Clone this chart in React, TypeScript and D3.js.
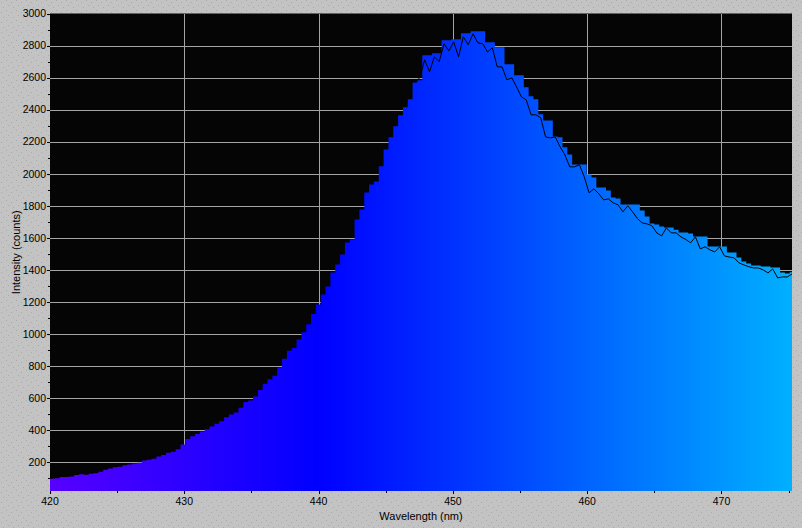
import React from 'react'
import * as d3 from 'd3'

// spectrometer bins
const WL_START = 420
const WL_STEP = 0.36

// peak-hold counts, one per bin (drawn as the coloured steps)
const holdCounts = [
  96, 100, 108, 108, 110, 120, 124, 122, 128, 130,
  140, 152, 160, 168, 172, 180, 186, 192, 196, 210,
  215, 222, 235, 245, 258, 265, 280, 310, 345, 362,
  375, 392, 405, 422, 440, 455, 480, 498, 510, 540,
  575, 585, 610, 650, 690, 718, 740, 790, 845, 895,
  912, 965, 1010, 1060, 1125, 1184, 1246, 1296, 1383, 1433,
  1496, 1571, 1590, 1715, 1777, 1883, 1933, 1952, 2046, 2152,
  2227, 2296, 2365, 2415, 2465, 2570, 2583, 2740, 2740, 2752,
  2752, 2833, 2833, 2840, 2840, 2877, 2877, 2890, 2890, 2890,
  2820, 2820, 2790, 2790, 2683, 2683, 2615, 2615, 2540, 2483,
  2465, 2371, 2333, 2333, 2233, 2227, 2165, 2120, 2058, 2058,
  2058, 1996, 1977, 1914, 1914, 1895, 1852, 1846, 1808, 1808,
  1808, 1808, 1771, 1733, 1690, 1683, 1671, 1665, 1665, 1650,
  1633, 1633, 1627, 1608, 1608, 1608, 1546, 1546, 1546, 1546,
  1508, 1508, 1477, 1452, 1440, 1427, 1427, 1421, 1421, 1415,
  1415, 1383, 1377, 1385,
]

// live spectrum (black trace), starts at bin LIVE_FROM
const LIVE_FROM = 75
const liveCounts = [
  2570, 2600, 2711, 2636, 2730, 2699, 2811, 2767, 2823, 2730,
  2855, 2805, 2873, 2817, 2811, 2760, 2786, 2667, 2667, 2586,
  2599, 2542, 2480, 2461, 2368, 2368, 2349, 2230, 2224, 2230,
  2168, 2118, 2043, 2043, 2056, 1981, 1881, 1906, 1875, 1837,
  1843, 1818, 1806, 1762, 1800, 1762, 1720, 1693, 1687, 1675,
  1631, 1612, 1662, 1631, 1631, 1606, 1590, 1569, 1606, 1531,
  1544, 1525, 1512, 1544, 1487, 1480, 1475, 1444, 1431, 1420,
  1412, 1412, 1400, 1381, 1406, 1350, 1356, 1356, 1375,
]

const xTicks = [420, 430, 440, 450, 460, 470]
const xMinor = [425, 435, 445, 455, 465, 475]
const yTicks = [200, 400, 600, 800, 1000, 1200, 1400, 1600, 1800, 2000, 2200, 2400, 2600, 2800, 3000]
const yMinor = [100, 300, 500, 700, 900, 1100, 1300, 1500, 1700, 1900, 2100, 2300, 2500, 2700, 2900]

const W = 802
const H = 528
const FONT = '"Liberation Sans", Arial, sans-serif'

export default function App() {
  const left = 50, right = 792, top = 13.5, bottom = 491

  const x = d3.scaleLinear().domain([420, 475.25]).range([left, right])
  const y = d3.scaleLinear().domain([20, 3000]).range([bottom, top])

  const holdArea = d3.area<number>()
    .x((_, i) => x(WL_START + i * WL_STEP))
    .y0(bottom)
    .y1(d => y(d))
    .curve(d3.curveStepAfter)([...holdCounts, holdCounts[holdCounts.length - 1]])

  const liveLine = d3.line<number>()
    .x((_, i) => x(WL_START + (LIVE_FROM + i) * WL_STEP + WL_STEP / 2))
    .y(d => y(d))(liveCounts)

  const px = (v: number) => Math.round(v) + 0.5

  return (
    <svg width={W} height={H} style={{ position: 'absolute', left: 0, top: 0, display: 'block' }}>
      <defs>
        <pattern id="speckle" width="10" height="10" patternUnits="userSpaceOnUse">
          <rect width="10" height="10" fill="#c3c3c3" />
          <rect x="1" y="2" width="1" height="1" fill="#a9a9a9" />
          <rect x="6" y="0" width="1" height="1" fill="#a9a9a9" />
          <rect x="3" y="7" width="1" height="1" fill="#a9a9a9" />
          <rect x="8" y="5" width="1" height="1" fill="#a9a9a9" />
        </pattern>
        <linearGradient id="spectrum" gradientUnits="userSpaceOnUse" x1={x(420)} x2={x(475.25)} y1={0} y2={0}>
          <stop offset={0} stopColor="#5800ff" />
          <stop offset={(x(440) - x(420)) / (x(475.25) - x(420))} stopColor="#0000ff" />
          <stop offset={1} stopColor="#00b0ff" />
        </linearGradient>
        <clipPath id="plot">
          <rect x={left} y={top} width={right - left} height={bottom - top} />
        </clipPath>
      </defs>

      <rect width={W} height={H} fill="url(#speckle)" />
      <rect x={left} y={top} width={right - left} height={bottom - top} fill="#050505" />

      {/* grid */}
      <g stroke="#a4a4a4" strokeWidth={1} shapeRendering="crispEdges">
        {yTicks.filter(t => t < 3000).map(t => (
          <line key={'gy' + t} x1={left} x2={right} y1={px(y(t))} y2={px(y(t))} />
        ))}
        {xTicks.filter(t => t > 420).map(t => (
          <line key={'gx' + t} x1={px(x(t))} x2={px(x(t))} y1={top} y2={bottom} />
        ))}
      </g>

      <g clipPath="url(#plot)">
        <path d={holdArea || ''} fill="url(#spectrum)" />
        <path d={liveLine || ''} fill="none" stroke="#000" strokeWidth={1} />
      </g>

      {/* y axis */}
      <g stroke="#000" shapeRendering="crispEdges">
        {yTicks.map(t => (
          <line key={'ty' + t} x1={left - 3} x2={left} y1={px(y(t))} y2={px(y(t))} />
        ))}
        {yMinor.map(t => (
          <line key={'my' + t} x1={left - 2} x2={left} y1={px(y(t))} y2={px(y(t))} />
        ))}
        {xTicks.map(t => (
          <line key={'tx' + t} x1={px(x(t))} x2={px(x(t))} y1={bottom} y2={bottom + 3} />
        ))}
        {xMinor.map(t => (
          <line key={'mx' + t} x1={px(x(t))} x2={px(x(t))} y1={bottom} y2={bottom + 2} />
        ))}
      </g>

      <g fontFamily={FONT} fontSize={10.5} fill="#000">
        {yTicks.map(t => (
          <text key={'ly' + t} x={left - 4} y={y(t)} dy="0.36em" textAnchor="end">{t}</text>
        ))}
        {xTicks.map(t => (
          <text key={'lx' + t} x={x(t)} y={505} textAnchor="middle">{t}</text>
        ))}
      </g>

      <text x={(left + right) / 2} y={520} textAnchor="middle" fontFamily={FONT} fontSize={11}>
        Wavelength (nm)
      </text>
      <text transform={`translate(20, ${(top + bottom) / 2}) rotate(-90)`} textAnchor="middle" fontFamily={FONT} fontSize={11}>
        Intensity (counts)
      </text>
    </svg>
  )
}
